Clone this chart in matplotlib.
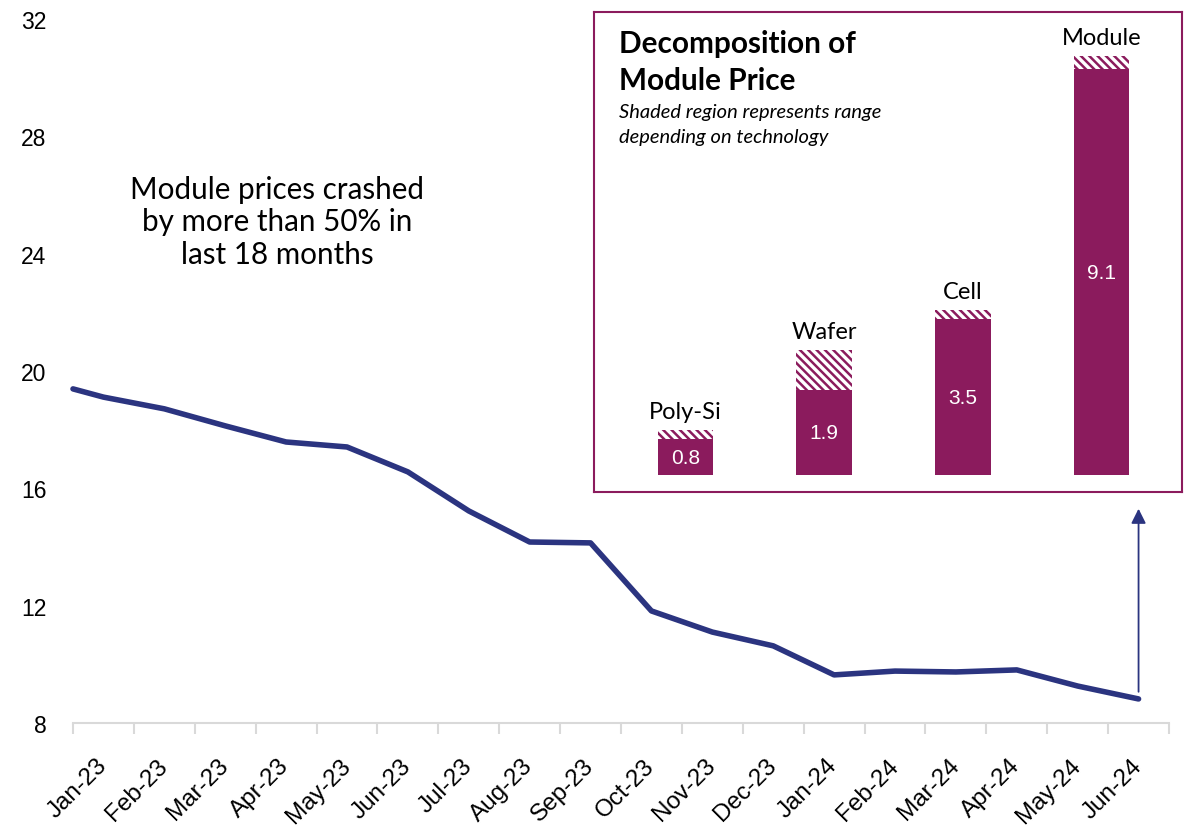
import numpy as np
import matplotlib
matplotlib.use('Agg')
import matplotlib.pyplot as plt

# monthly module price series
months = ['Jan-23', 'Feb-23', 'Mar-23', 'Apr-23', 'May-23', 'Jun-23', 'Jul-23', 'Aug-23', 'Sep-23',
          'Oct-23', 'Nov-23', 'Dec-23', 'Jan-24', 'Feb-24', 'Mar-24', 'Apr-24', 'May-24', 'Jun-24']
prices = [19.11, 18.71, 18.13, 17.58, 17.41, 16.56, 15.23, 14.17, 14.14,
          11.82, 11.10, 10.63, 9.64, 9.77, 9.74, 9.81, 9.26, 8.82]
start_price = 19.39  # value at the very start of Jan-23

# decomposition inset
stages = ['Poly-Si', 'Wafer', 'Cell', 'Module']
stage_price = [0.8, 1.9, 3.5, 9.1]
stage_range = [0.2, 0.9, 0.2, 0.3]

navy = '#2B3480'
purple = '#8B1B5D'

plt.rcParams['hatch.linewidth'] = 1.8

fig = plt.figure(figsize=(11.91, 8.29), dpi=100)
ax = fig.add_axes([73 / 1191, 105 / 829, 1096 / 1191, 704 / 829])

x = np.arange(len(months))
ax.plot(np.r_[-0.5, x], np.r_[start_price, prices], color=navy, lw=4,
        solid_capstyle='round', solid_joinstyle='round', clip_on=False)

ax.set_xlim(-0.5, len(months) - 0.5)
ax.set_ylim(8, 32)
ax.set_yticks(np.arange(8, 33, 4))
ax.set_xticks(x)
ax.set_xticklabels(months, rotation=45, ha='right', va='center', rotation_mode='anchor',
                   fontsize=17.5, family='Liberation Sans')
ax.set_xticks(np.arange(-0.5, len(months)), minor=True)
ax.tick_params(axis='x', which='major', length=0, pad=28)
ax.tick_params(axis='x', which='minor', length=8, width=1.5, color='#d9d9d9')
ax.tick_params(axis='y', length=0, pad=19, labelsize=16.5)
for lab in ax.get_yticklabels():
    lab.set_family('Liberation Sans')
for s in ['top', 'right', 'left']:
    ax.spines[s].set_visible(False)
ax.spines['bottom'].set_color('#d9d9d9')
ax.spines['bottom'].set_linewidth(1.5)

ax.text(2.85, 25.1, 'Module prices crashed\nby more than 50% in\nlast 18 months',
        ha='center', va='center', fontsize=21.3, family='Lato', linespacing=1.2)

# arrow from last point up to the inset
ax.annotate('', xy=(len(months) - 1, 15.4), xytext=(len(months) - 1, prices[-1] + 0.15),
            arrowprops=dict(arrowstyle='-|>', color=navy, lw=1.3, mutation_scale=22))

# inset: decomposition of module price
ins = fig.add_axes([594 / 1191, 336 / 829, 588 / 1191, 480.3 / 829])
xs = np.arange(len(stages))
ins.bar(xs, stage_price, width=0.4, color=purple)
ins.bar(xs, stage_range, width=0.4, bottom=stage_price, color='white', edgecolor=purple,
        hatch='\\\\\\\\', linewidth=0)
for i, (p, r) in enumerate(zip(stage_price, stage_range)):
    ins.text(i, p / 2, f'{p}', ha='center', va='center', color='white', fontsize=15,
             family='Liberation Sans')
    ins.annotate(stages[i], (i, p + r), xytext=(0, 6), textcoords='offset points',
                 ha='center', va='bottom', fontsize=17, family='Lato')
ins.set_xlim(-0.66, 3.58)
ins.set_ylim(-0.38, 10.39)
ins.set_xticks([])
ins.set_yticks([])
for s in ins.spines.values():
    s.set_color(purple)
    s.set_linewidth(1.5)

fig.text(619 / 1191, 1 - 53 / 829, 'Decomposition of', ha='left', va='baseline',
         fontsize=21.4, fontweight='bold', family='Lato')
fig.text(619 / 1191, 1 - 90 / 829, 'Module Price', ha='left', va='baseline',
         fontsize=21.4, fontweight='bold', family='Lato')
fig.text(619 / 1191, 1 - 118 / 829, 'Shaded region represents range', ha='left', va='baseline',
         fontsize=14.5, style='italic', family='Lato')
fig.text(619 / 1191, 1 - 143 / 829, 'depending on technology', ha='left', va='baseline',
         fontsize=14.5, style='italic', family='Lato')

fig.savefig('out.png', dpi=100)
